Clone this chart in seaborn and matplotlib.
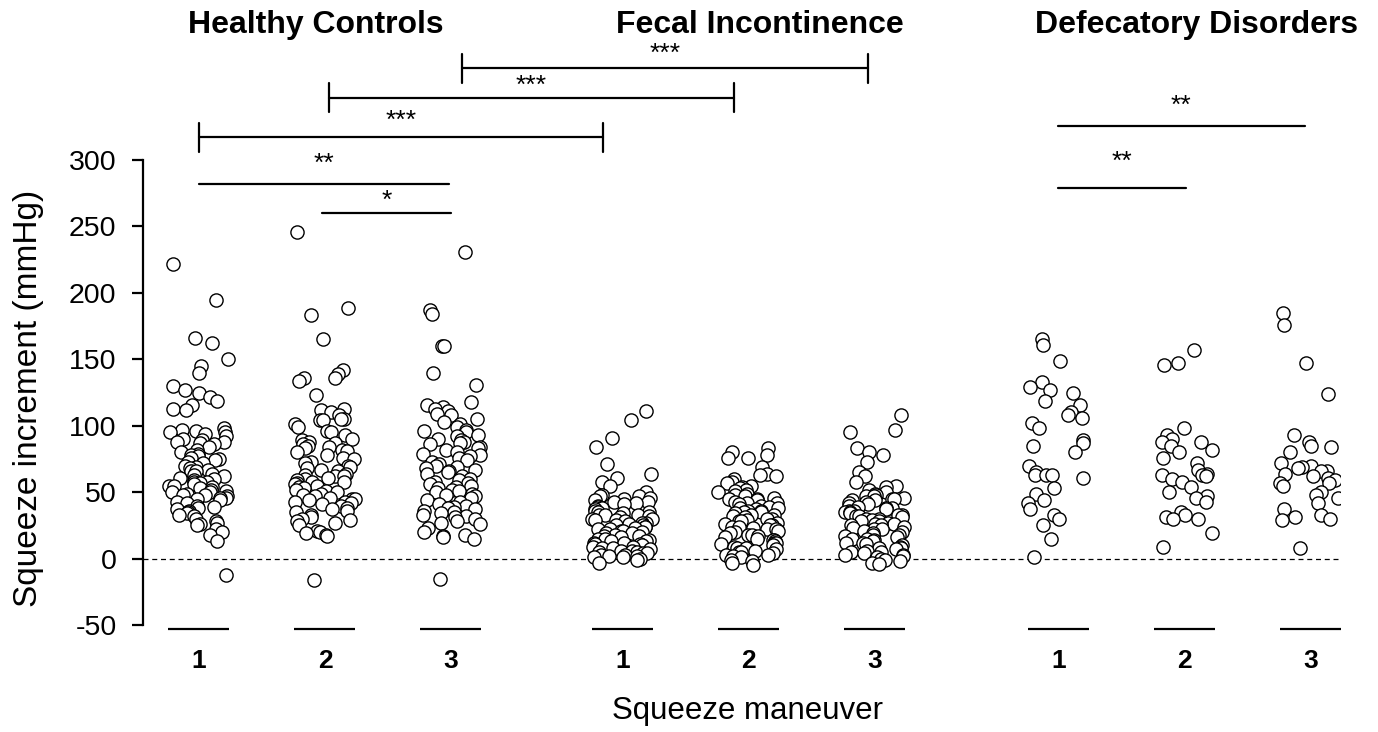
import numpy as np
import pandas as pd
import matplotlib
matplotlib.use("Agg")
import matplotlib.pyplot as plt
import seaborn as sns

# ---- data (squeeze increment, mmHg) ----
groups = ["Healthy Controls", "Fecal Incontinence", "Defecatory Disorders"]
maneuver_labels = ["1", "2", "3"]

hc1 = [222, 195, 166, 162, 150, 145, 140, 130, 127, 125, 122, 119, 116, 113, 112,
       98, 97, 96, 95, 95, 94, 92, 90, 89, 88, 88, 87, 86,
       84, 82, 80, 79, 78, 77, 76, 75, 74, 73, 72, 70, 69, 68, 67, 66, 66,
       64, 63, 62, 61, 60, 59, 58, 58, 57, 56, 55, 55,
       54, 53, 52, 51, 50, 50, 49, 48, 48, 47, 46, 46, 45,
       44, 43, 42, 40, 39, 38, 37, 36, 35, 34, 33, 32, 30, 28, 27, 26, 25,
       22, 20, 18, 13, -12]
hc2 = [246, 189, 183, 165, 142, 139, 136, 136, 134, 123, 113, 112, 110, 108, 105, 105, 101,
       104, 104, 99, 96, 95, 93, 90, 89, 88, 87, 86, 85,
       84, 83, 82, 81, 80, 78, 76, 75, 73, 72, 70, 69, 68, 67, 66,
       64, 63, 62, 62, 61, 60, 59, 58, 58, 57, 56, 55,
       54, 53, 52, 51, 50, 49, 48, 47, 46, 45, 45, 44, 43, 43, 42, 41, 40, 38, 37, 36, 35,
       33, 31, 30, 29, 28, 27, 25, 21, 20, 19, 18, 17, -16]
hc3 = [231, 187, 184, 160, 160, 140, 131, 118, 116, 114, 113, 111, 109, 108, 105, 103, 101,
       99, 97, 96, 95, 93, 92, 90, 89, 88, 87, 86,
       84, 83, 82, 80, 79, 78, 77, 76, 74, 73, 71, 70, 69, 68, 67, 66, 65,
       64, 62, 60, 59, 58, 57, 56, 55, 54, 53, 52, 51, 50, 49, 48, 47, 46,
       44, 43, 41, 40, 39, 38, 37, 36, 35, 34, 33, 32, 31, 30, 28, 27, 26,
       23, 20, 18, 17, 16, 15, -15]
fi1 = [111, 104, 91, 84, 71, 64, 61, 58, 55, 50, 48, 47, 47, 46, 45,
       44, 43, 43, 42, 41, 40, 39, 38, 38, 37, 36, 35, 35,
       34, 33, 33, 33, 32, 31, 30, 30, 29, 29, 28, 27, 27, 26, 25, 25,
       24, 24, 23, 22, 22, 21, 21, 20, 19, 19, 18, 17, 17, 16, 15, 15,
       14, 13, 13, 12, 12, 11, 11, 10, 9, 9, 8, 8, 7, 6, 6, 5, 5,
       4, 4, 3, 3, 2, 2, 1, 1, 0, -1, -3]
fi2 = [83, 80, 78, 76, 76, 69, 64, 63, 62, 60, 58, 57, 55, 54, 53, 52, 51, 50,
       49, 48, 47, 46, 45, 45, 44, 43, 42, 42, 41, 40,
       39, 38, 38, 37, 36, 36, 35, 35, 34, 33, 33, 32, 31, 30, 30,
       29, 28, 28, 27, 26, 25, 25, 24, 24, 23, 22, 22, 21, 20,
       19, 18, 18, 17, 16, 15, 14, 14, 13, 12, 12, 11, 10,
       9, 8, 8, 7, 6, 5, 5, 4, 3, 3, 2, 1, -1, -2, -3, -5]
fi3 = [108, 97, 95, 83, 80, 78, 73, 65, 62, 58, 55, 54,
       52, 50, 49, 48, 47, 47, 46, 45, 45, 44, 44, 43, 42, 41, 40,
       39, 38, 38, 37, 36, 36, 35, 35, 34, 33, 33, 32, 32, 31, 30, 30,
       29, 28, 28, 27, 26, 26, 25, 25, 24, 23, 22, 22, 21, 20,
       19, 18, 18, 17, 16, 15, 15, 14, 13, 12, 12, 11, 10,
       9, 8, 8, 7, 6, 5, 5, 4, 3, 3, 2, 1, 0, -1, -2, -3, -4]
dd1 = [165, 161, 149, 133, 129, 127, 125, 119, 116, 110, 108, 106, 102, 98,
       89, 87, 85, 80, 70, 65, 63, 63, 63, 61, 53, 49, 44, 42, 37, 33, 30, 25, 15, 1]
dd2 = [157, 147, 146, 98, 93, 90, 88, 88, 85, 82, 80, 76, 72, 67, 64, 63, 63, 62, 60,
       58, 54, 50, 47, 46, 43, 35, 33, 31, 30, 30, 19, 9]
dd3 = [185, 176, 147, 124, 93, 88, 85, 84, 80, 72, 70, 69, 68, 66, 66, 64, 62, 61,
       59, 57, 57, 55, 50, 48, 46, 42, 37, 33, 31, 30, 29, 8]

series = [hc1, hc2, hc3, fi1, fi2, fi3, dd1, dd2, dd3]

# significance comparisons: (x_left, x_right, y, label, end ticks)
comparisons = [
    (2.087, 5.31, 369, "***", True),
    (1.03, 4.246, 347, "***", True),
    (0.0, 3.206, 317, "***", True),
    (0.0, 1.984, 282, "**", False),
    (0.976, 2.0, 260, "*", False),
    (6.817, 8.778, 325.5, "**", False),
    (6.817, 7.833, 279, "**", False),
]
star_y = [379.8, 356, 329.5, 297.5, 269, 341, 299]

# ---- layout ----
positions = [0, 1, 2, 3.36, 4.36, 5.36, 6.82, 7.82, 8.82]
title_x = [0.93, 4.45, 7.92]

rows = []
for pos, vals in zip(positions, series):
    for v in vals:
        rows.append((pos, v))
df = pd.DataFrame(rows, columns=["pos", "val"])

sns.set_style("ticks")
plt.rcParams['font.family'] = ['Liberation Sans', 'DejaVu Sans']
plt.rcParams.update({
    "text.color": "black", "axes.labelcolor": "black",
    "xtick.color": "black", "ytick.color": "black",
    "axes.edgecolor": "black", "axes.unicode_minus": False,
})

fig = plt.figure(figsize=(13.78, 7.32), dpi=100)
ax = fig.add_axes([143/1378, (732-630)/732, 1197/1378, 629.4/732])

np.random.seed(7)
sns.stripplot(data=df, x="pos", y="val", native_scale=True, orient="x",
              jitter=0.24, size=9.5, color="white", edgecolor="black",
              linewidth=1.0, ax=ax, zorder=3)

ax.set_xlim(-0.444, 9.056)
ax.set_ylim(-53.7, 420)

ax.axhline(0, color="black", lw=0.9, ls=(0, (4, 3)), zorder=1)

for s in ["top", "right", "bottom"]:
    ax.spines[s].set_visible(False)
ax.spines["left"].set_bounds(-50, 300)
ax.spines["left"].set_linewidth(1.6)
ax.set_yticks(range(-50, 301, 50))
ax.tick_params(axis="y", labelsize=20.5, length=8, width=1.6, pad=11)

ax.set_xticks(positions)
ax.set_xticklabels(maneuver_labels * 3, fontsize=19, fontweight="bold")
ax.tick_params(axis="x", length=0, pad=14)

for p in positions:
    ax.hlines(-53.2, p - 0.242, p + 0.242, color="black", lw=1.6, clip_on=False)

for (x0, x1, y, lab, ticks), sy in zip(comparisons, star_y):
    ax.plot([x0, x1], [y, y], color="black", lw=1.6)
    if ticks:
        ax.plot([x0, x0], [y - 11, y + 11], color="black", lw=1.6)
        ax.plot([x1, x1], [y - 11, y + 11], color="black", lw=1.6)
    ax.text((x0 + x1) / 2, sy, lab, ha="center", va="center", fontsize=19)

for tx, g in zip(title_x, groups):
    ax.text(tx, 395.6, g, ha="center", va="baseline", fontsize=23, fontweight="bold")

ax.set_xlabel("Squeeze maneuver", fontsize=22.5, va="center")
ax.xaxis.set_label_coords((748 - 143) / 1197, (630 - 711) / 629.4)
ax.set_ylabel("Squeeze increment (mmHg)", fontsize=24, va="center")
ax.yaxis.set_label_coords((28.5 - 143) / 1197, (630 - 398) / 629.4)

fig.savefig("out.png", dpi=100)
